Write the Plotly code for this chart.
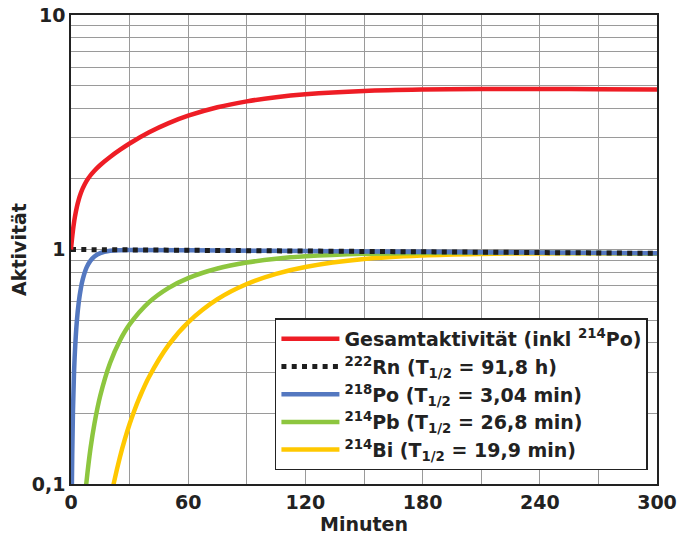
import plotly.graph_objects as go

# ---- data (activity relative to initial 222Rn activity) ----
t_rn = [0, 60, 120, 180, 240, 300]
a_rn = [1.0, 0.9925, 0.9850, 0.9776, 0.9703, 0.9630]

t_po = [0.1, 0.25, 0.5, 1, 1.5, 2, 3, 4, 5, 6, 8, 10, 12, 15, 20, 25, 30, 60, 120, 180, 240, 300]
a_po = [0.0225, 0.0554, 0.1077, 0.2039, 0.2897, 0.3662, 0.4954, 0.5983, 0.6802, 0.7454,
        0.8386, 0.8966, 0.9338, 0.9655, 0.9870, 0.9935, 0.9952, 0.9925, 0.9850, 0.9776,
        0.9703, 0.9630]

t_pb = [5, 6, 7, 8, 10, 12, 15, 20, 25, 30, 40, 50, 60, 75, 90, 105, 120, 150, 180, 210, 240, 270, 300]
a_pb = [0.0498, 0.0668, 0.0848, 0.1035, 0.1422, 0.1810, 0.2384, 0.3281, 0.4083, 0.4791,
        0.5961, 0.6862, 0.7553, 0.8300, 0.8800, 0.9133, 0.9352, 0.9585, 0.9672, 0.9692,
        0.9680, 0.9656, 0.9625]

t_bi = [18, 20, 22, 25, 27.5, 30, 32.5, 35, 40, 50, 60, 75, 90, 105, 120, 150, 180, 210, 240, 270, 300]
a_bi = [0.0676, 0.0840, 0.1016, 0.1297, 0.1545, 0.1801, 0.2064, 0.2330, 0.2868, 0.3920,
        0.4893, 0.6142, 0.7128, 0.7875, 0.8426, 0.9105, 0.9432, 0.9574, 0.9625, 0.9630, 0.9612]

t_tot = [0, 0.5, 1, 1.5, 2, 3, 4, 5, 6, 8, 10, 12, 15, 20, 25, 30, 40, 50, 60, 75, 90,
         105, 120, 150, 180, 210, 240, 270, 300]
a_tot = [1.0, 1.1084, 1.2067, 1.2956, 1.3766, 1.5178, 1.6360, 1.7361, 1.8221, 1.9629,
         2.0732, 2.1685, 2.2936, 2.4806, 2.6581, 2.8307, 3.1596, 3.4576, 3.7189, 4.0396,
         4.2831, 4.4621, 4.5904, 4.7421, 4.8088, 4.8319, 4.8335, 4.8248, 4.8108]

names = {
    "tot": "Gesamtaktivität (inkl <sup>214</sup>Po)",
    "rn": "<sup>222</sup>Rn (T<sub>1/2</sub> = 91,8 h)",
    "po": "<sup>218</sup>Po (T<sub>1/2</sub> = 3,04 min)",
    "pb": "<sup>214</sup>Pb (T<sub>1/2</sub> = 26,8 min)",
    "bi": "<sup>214</sup>Bi (T<sub>1/2</sub> = 19,9 min)",
}

x_ticks = [0, 60, 120, 180, 240, 300]
x_text = ["0", "60", "120", "180", "240", "300"]
x_minor = [30, 90, 150, 210, 270]
y_ticks = [0.1, 1, 10]
y_text = ["0,1", "1", "10"]
y_minor = [0.2, 0.3, 0.4, 0.5, 0.6, 0.7, 0.8, 0.9, 2, 3, 4, 5, 6, 7, 8, 9]

FONT = "DejaVu Sans"
LW = 4.5
GRID = "#9A9A9A"

fig = go.Figure()
fig.add_trace(go.Scatter(x=t_bi, y=a_bi, mode="lines", name=names["bi"], legendrank=5,
                         line=dict(color="#FFC800", width=LW, shape="spline")))
fig.add_trace(go.Scatter(x=t_pb, y=a_pb, mode="lines", name=names["pb"], legendrank=4,
                         line=dict(color="#8DC63F", width=LW, shape="spline")))
fig.add_trace(go.Scatter(x=t_po, y=a_po, mode="lines", name=names["po"], legendrank=3,
                         line=dict(color="#5478C0", width=LW, shape="spline")))
fig.add_trace(go.Scatter(x=t_rn, y=a_rn, mode="lines", name=names["rn"], legendrank=2,
                         line=dict(color="#1E1E1E", width=5, dash="5px,5.3px")))
fig.add_trace(go.Scatter(x=t_tot, y=a_tot, mode="lines", name=names["tot"], legendrank=1,
                         line=dict(color="#EE1D25", width=LW, shape="spline")))

axis_common = dict(showline=True, mirror=True, linecolor="#222222", linewidth=1.5,
                   showgrid=True, gridcolor=GRID, gridwidth=1.3, zeroline=False,
                   ticks="", automargin=False,
                   tickfont=dict(family=FONT, size=19, color="#222222", weight="bold"))

fig.update_xaxes(range=[0, 300], tickvals=x_ticks, ticktext=x_text,
                 minor=dict(tickvals=x_minor, showgrid=True, gridcolor=GRID, gridwidth=1.3, ticks=""),
                 title=dict(text="Minuten", font=dict(family=FONT, size=19, color="#222222", weight="bold"),
                            standoff=6),
                 **axis_common)
fig.update_yaxes(type="log", range=[-1, 1], tickvals=y_ticks, ticktext=y_text,
                 minor=dict(tickvals=y_minor, showgrid=True, gridcolor=GRID, gridwidth=1.3, ticks=""),
                 title=dict(text="Aktivität", font=dict(family=FONT, size=19, color="#222222", weight="bold"),
                            standoff=0),
                 **axis_common)

fig.update_layout(
    width=684, height=545,
    margin=dict(l=71, r=27, t=15, b=61),
    paper_bgcolor="white", plot_bgcolor="white",
    showlegend=True,
    legend=dict(x=0.348, y=0.353, xanchor="left", yanchor="top",
                bgcolor="white", bordercolor="#222222", borderwidth=1.5,
                font=dict(family=FONT, size=19, color="#222222", weight="bold"),
                itemwidth=58, tracegroupgap=0),
)

fig.write_html("out.html")
